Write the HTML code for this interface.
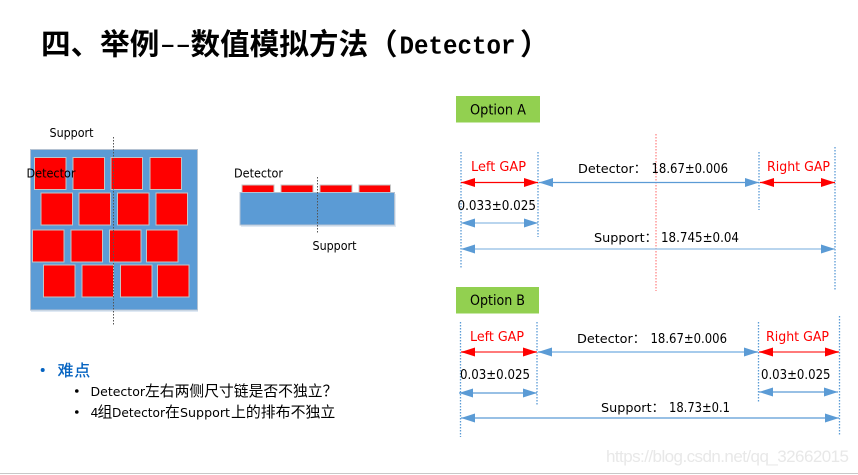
<!DOCTYPE html>
<html><head><meta charset="utf-8"><style>
html,body{margin:0;padding:0;background:#fff;width:858px;height:475px;overflow:hidden}
svg{display:block}
text{font-family:"DejaVu Sans","Noto Sans CJK SC",sans-serif;font-size:12px;fill:#000}
.r{fill:#f00}
.t{font-size:29.6px;font-weight:700;font-family:'Noto Sans CJK SC',sans-serif}
.c{font-size:14.8px;font-family:'Noto Sans CJK SC',sans-serif}
.l{font-size:12.5px}
.s rect{fill:#f00;stroke:#c4c4c4;stroke-width:1}
.d{stroke:#5b9bd5;stroke-width:1.3;stroke-dasharray:1.5 1.5;fill:none}
.b{stroke:#5b9bd5;stroke-width:1.2;fill:none;marker-start:url(#mb);marker-end:url(#mb)}
.a{stroke:#f00;stroke-width:1.2;fill:none;marker-start:url(#mr);marker-end:url(#mr)}
.k{stroke:#555;stroke-width:1;stroke-dasharray:1.5 1.5;fill:none}
</style></head><body>
<svg width="858" height="475" viewBox="0 0 858 475" xmlns="http://www.w3.org/2000/svg">
<defs>
<marker id="mb" markerUnits="userSpaceOnUse" markerWidth="15" markerHeight="11" refX="14" refY="5.5" orient="auto-start-reverse"><path d="M0 1L14 5.5L0 10Z" fill="#5b9bd5"/></marker>
<marker id="mr" markerUnits="userSpaceOnUse" markerWidth="15" markerHeight="11" refX="14" refY="5.5" orient="auto-start-reverse"><path d="M0 1L14 5.5L0 10Z" fill="#f00"/></marker>
</defs>
<rect width="858" height="475" fill="#fff"/>

<!-- title -->
<text class="t" x="41" y="54.5">四、举例</text>
<text x="160" y="53.5" textLength="31" lengthAdjust="spacingAndGlyphs" style="font-size:28px;font-family:'Liberation Sans',sans-serif">--</text>
<text class="t" x="190.5" y="54.5">数值模拟方法（</text>
<text x="399.5" y="53.5" textLength="116" lengthAdjust="spacingAndGlyphs" style="font-size:25.5px;font-weight:700;font-family:'Liberation Mono',monospace">Detector</text>
<text class="t" x="520" y="54.5">）</text>

<!-- left diagram -->
<rect x="31" y="151" width="167" height="161" fill="#dfe9f4"/>
<rect x="30.5" y="149.5" width="167" height="160.5" fill="#5b9bd5" stroke="#b4c2d2"/>
<g class="s">
<rect x="34.5" y="157.5" width="31.5" height="32"/><rect x="73" y="157.5" width="31.5" height="32"/><rect x="111" y="157.5" width="31.5" height="32"/><rect x="150" y="157.5" width="31.5" height="32"/>
<rect x="41" y="193" width="31.5" height="32"/><rect x="79" y="193" width="31.5" height="32"/><rect x="117.5" y="193" width="31.5" height="32"/><rect x="156" y="193" width="31.5" height="32"/>
<rect x="32.5" y="230" width="31.5" height="32"/><rect x="71" y="230" width="31.5" height="32"/><rect x="109.5" y="230" width="31.5" height="32"/><rect x="146.5" y="230" width="31.5" height="32"/>
<rect x="43.5" y="265" width="31.5" height="32"/><rect x="82" y="265" width="31.5" height="32"/><rect x="120.5" y="265" width="31.5" height="32"/><rect x="157.5" y="265" width="31.5" height="32"/>
</g>
<line class="k" x1="113.5" y1="137" x2="113.5" y2="325"/>
<text x="49.5" y="137" textLength="44" lengthAdjust="spacingAndGlyphs" style="font-size:12px">Support</text>
<text x="26.5" y="177.5" textLength="49" lengthAdjust="spacingAndGlyphs" style="font-size:12px">Detector</text>

<!-- right diagram -->
<rect x="241" y="194" width="155" height="33" fill="#dfe9f4"/>
<g class="s">
<rect x="242" y="185" width="32" height="8"/><rect x="281" y="185" width="32" height="8"/><rect x="320" y="185" width="32" height="8"/><rect x="359" y="185" width="31.5" height="8"/>
</g>
<rect x="240" y="192.5" width="154.5" height="32.5" fill="#5b9bd5" stroke="#b4c2d2"/>
<line class="k" x1="317.5" y1="177" x2="317.5" y2="233"/>
<text x="234" y="177.5" textLength="49" lengthAdjust="spacingAndGlyphs" style="font-size:12px">Detector</text>
<text x="312.5" y="250" textLength="44" lengthAdjust="spacingAndGlyphs" style="font-size:12px">Support</text>

<!-- bullets -->
<circle cx="42.7" cy="370" r="2" fill="#0563c1"/>
<text x="57.5" y="376" style="font-size:16px;font-weight:500;fill:#0563c1;letter-spacing:.7px;font-family:'Noto Sans CJK SC',sans-serif">难点</text>
<circle cx="76.8" cy="391" r="1.8" fill="#000"/>
<circle cx="76.8" cy="412" r="1.8" fill="#000"/>
<text class="l" x="90.5" y="396" textLength="54.5" lengthAdjust="spacingAndGlyphs">Detector</text>
<text class="c" x="145" y="396">左右两侧尺寸链是否不独立？</text>
<text class="l" x="90.5" y="417">4</text>
<text class="c" x="97.5" y="417">组</text>
<text class="l" x="112" y="417" textLength="53" lengthAdjust="spacingAndGlyphs">Detector</text>
<text class="c" x="165" y="417">在</text>
<text class="l" x="180" y="417" textLength="50" lengthAdjust="spacingAndGlyphs">Support</text>
<text class="c" x="231" y="417" style="font-size:14.9px">上的排布不独立</text>

<!-- Option A -->
<rect x="456" y="96" width="84" height="26.5" fill="#92d050"/>
<text x="470" y="114.5" textLength="56" lengthAdjust="spacingAndGlyphs" style="font-size:14px">Option A</text>
<line x1="656" y1="134" x2="656" y2="291" stroke="#f88" stroke-width="1.3" stroke-dasharray="1.5 1.5"/>
<line class="d" x1="461" y1="152" x2="461" y2="268"/>
<line class="d" x1="538" y1="152" x2="538" y2="237"/>
<line class="d" x1="759" y1="152" x2="759" y2="210"/>
<line class="d" x1="835" y1="147" x2="835" y2="291"/>
<line class="a" x1="461" y1="182.5" x2="538" y2="182.5"/>
<line class="b" x1="539" y1="182.5" x2="759" y2="182.5"/>
<line class="a" x1="760" y1="182.5" x2="835" y2="182.5"/>
<line class="b" x1="461" y1="223" x2="538" y2="223" style="stroke:#8fbce3"/>
<line class="b" x1="461" y1="249" x2="835" y2="249" style="stroke:#8fbce3"/>
<text class="r" x="471" y="171" textLength="55" lengthAdjust="spacingAndGlyphs" style="font-size:13.5px">Left GAP</text>
<text x="578" y="173" style="font-size:12.8px">Detector：</text>
<text x="651.5" y="173" textLength="76.5" lengthAdjust="spacingAndGlyphs" style="font-size:13px">18.67±0.006</text>
<text class="r" x="767" y="171" textLength="63" lengthAdjust="spacingAndGlyphs" style="font-size:13.5px">Right GAP</text>
<text x="457.5" y="210" textLength="78.5" lengthAdjust="spacingAndGlyphs" style="font-size:13px">0.033±0.025</text>
<text x="594" y="242" style="font-size:12.8px">Support：</text>
<text x="661" y="242" textLength="78" lengthAdjust="spacingAndGlyphs" style="font-size:13px">18.745±0.04</text>

<!-- Option B -->
<rect x="456" y="287" width="83" height="26.5" fill="#92d050"/>
<text x="470" y="305" textLength="55" lengthAdjust="spacingAndGlyphs" style="font-size:14px">Option B</text>
<line class="d" x1="460.5" y1="322" x2="460.5" y2="437"/>
<line class="d" x1="537" y1="322" x2="537" y2="406"/>
<line class="d" x1="758.5" y1="322" x2="758.5" y2="402"/>
<line class="d" x1="839.5" y1="316" x2="839.5" y2="436"/>
<line class="a" x1="461" y1="352" x2="537" y2="352" style="stroke:#ff7a7a;stroke-width:2"/>
<line class="b" x1="538" y1="352" x2="758" y2="352" style="stroke:#a6cbec;stroke-width:2"/>
<line class="a" x1="759" y1="352" x2="839" y2="352" style="stroke:#ff7a7a;stroke-width:2"/>
<line class="b" x1="459" y1="393" x2="537" y2="393"/>
<line class="b" x1="759" y1="392" x2="838" y2="392"/>
<line class="b" x1="461" y1="418" x2="839" y2="418"/>
<text class="r" x="470" y="341" textLength="54" lengthAdjust="spacingAndGlyphs" style="font-size:13.5px">Left GAP</text>
<text x="577" y="343" style="font-size:12.8px">Detector：</text>
<text x="650.5" y="343" textLength="76.5" lengthAdjust="spacingAndGlyphs" style="font-size:13px">18.67±0.006</text>
<text class="r" x="766" y="341" textLength="63" lengthAdjust="spacingAndGlyphs" style="font-size:13.5px">Right GAP</text>
<text x="460" y="379" textLength="70" lengthAdjust="spacingAndGlyphs" style="font-size:13px">0.03±0.025</text>
<text x="761" y="379" textLength="69.5" lengthAdjust="spacingAndGlyphs" style="font-size:13px">0.03±0.025</text>
<text x="601" y="412" style="font-size:12.8px">Support：</text>
<text x="669" y="412" textLength="61" lengthAdjust="spacingAndGlyphs" style="font-size:13px">18.73±0.1</text>

<!-- watermark -->
<text x="606" y="462" textLength="243" style="font-family:'Liberation Sans',sans-serif;font-size:17px;fill:#e8e8e8">https://blog.csdn.net/qq_32662015</text>
<rect x="0" y="473" width="858" height="1" fill="#c8c8c8"/>
</svg>
</body></html>
